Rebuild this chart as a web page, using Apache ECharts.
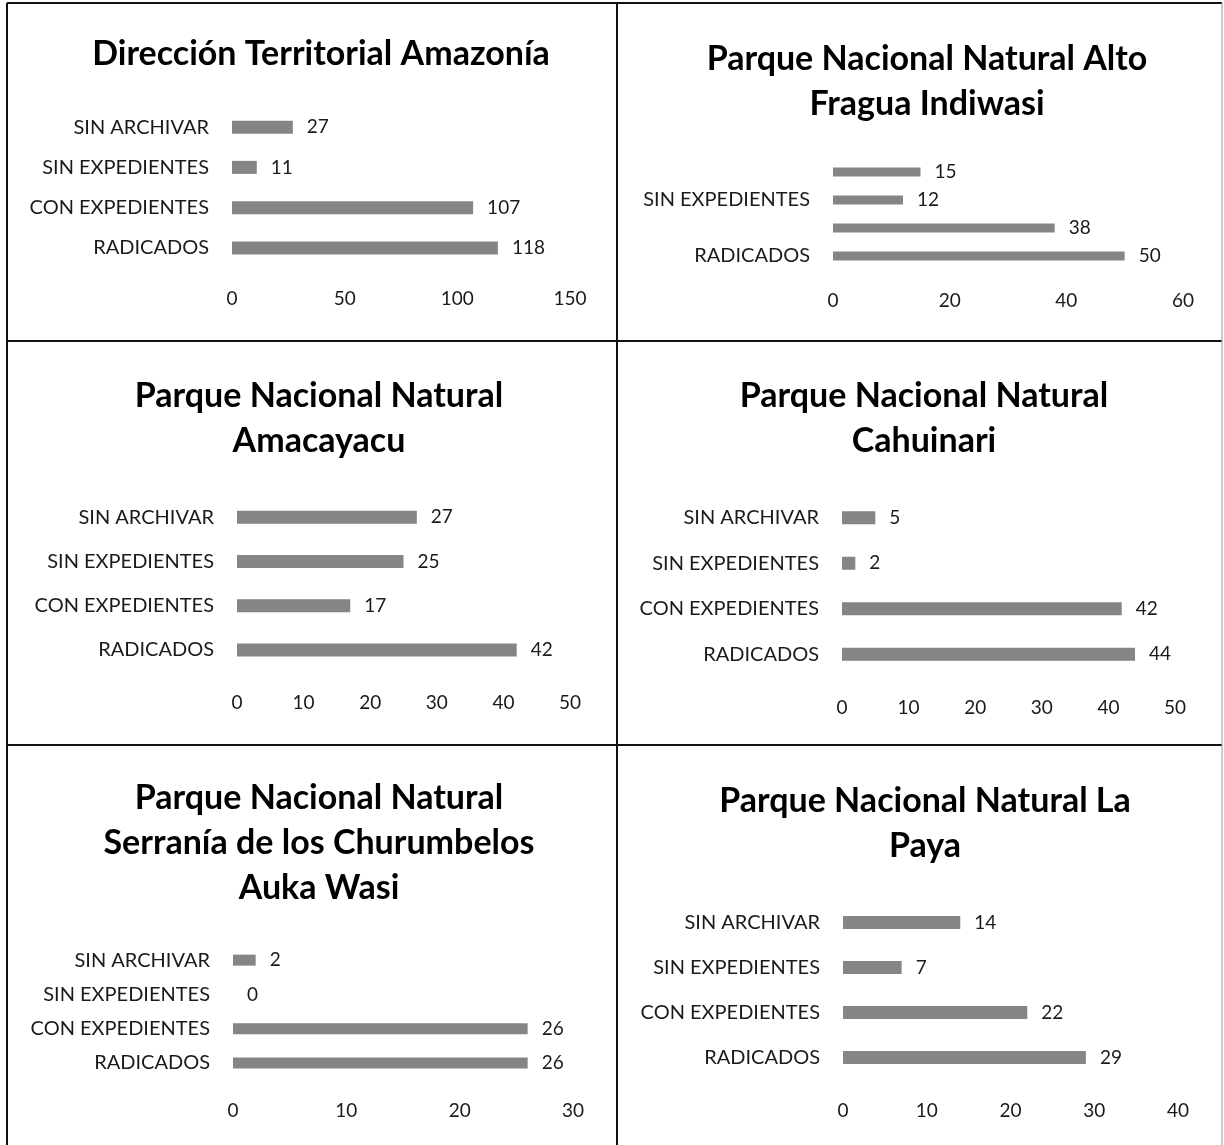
<!DOCTYPE html>
<html>
<head>
<meta charset="utf-8">
<title>Expedientes por área protegida</title>
<script src="https://cdn.jsdelivr.net/npm/echarts@6/dist/echarts.min.js"></script>
<style>
  html, body { margin: 0; padding: 0; background: #fff; }
  #chart { width: 1224px; height: 1145px; }
</style>
</head>
<body>
<div id="chart"></div>
<script>
// categorias de abajo hacia arriba (como las pinta el eje)
var categories = ['RADICADOS', 'CON EXPEDIENTES', 'SIN EXPEDIENTES', 'SIN ARCHIVAR']

var titles = [
  'Dirección Territorial Amazonía',
  'Parque Nacional Natural Alto\nFragua Indiwasi',
  'Parque Nacional Natural\nAmacayacu',
  'Parque Nacional Natural\nCahuinari',
  'Parque Nacional Natural\nSerranía de los Churumbelos\nAuka Wasi',
  'Parque Nacional Natural La\nPaya'
]

var valuesAmazonia = [118, 107, 11, 27]
var valuesAltoFragua = [50, 38, 12, 15]
var valuesAmacayacu = [42, 17, 25, 27]
var valuesCahuinari = [44, 42, 2, 5]
var valuesChurumbelos = [26, 26, 0, 2]
var valuesLaPaya = [29, 22, 7, 14]

var axisMax = [150, 60, 50, 50, 30, 40]
var axisStep = [50, 20, 10, 10, 10, 10]

var allValues = [valuesAmazonia, valuesAltoFragua, valuesAmacayacu, valuesCahuinari, valuesChurumbelos, valuesLaPaya]

// posicion de cada panel (px)
var panels = [
  { cx: 316, titleTop: 27, left: 232, right: 570, top: 107, bottom: 268, bar: 13, labelEvery: 0 },
  { cx: 922, titleTop: 32, left: 833, right: 1183, top: 158, bottom: 270, bar: 9, labelEvery: 1 },
  { cx: 314, titleTop: 369, left: 237, right: 570, top: 495, bottom: 672, bar: 13, labelEvery: 0 },
  { cx: 919, titleTop: 369, left: 842, right: 1175, top: 495, bottom: 677, bar: 13, labelEvery: 0 },
  { cx: 314, titleTop: 771, left: 233, right: 573, top: 943, bottom: 1080, bar: 11, labelEvery: 0 },
  { cx: 920, titleTop: 774, left: 843, right: 1178, top: 900, bottom: 1080, bar: 13, labelEvery: 0 }
]

var font = 'Lato, "Open Sans", sans-serif'
var W = 1224, H = 1145

var title = [], grid = [], xAxis = [], yAxis = [], series = []
panels.forEach(function (p, i) {
  title.push({
    text: titles[i],
    left: p.cx,
    top: p.titleTop,
    textAlign: 'center',
    textStyle: { fontFamily: font, fontWeight: 'bold', fontSize: 34, lineHeight: 45, color: '#000' }
  })
  grid.push({
    left: p.left,
    width: p.right - p.left,
    top: p.top,
    height: p.bottom - p.top,
    outerBoundsMode: 'none'
  })
  xAxis.push({
    type: 'value',
    gridIndex: i,
    min: 0,
    max: axisMax[i],
    interval: axisStep[i],
    axisLine: { show: false },
    axisTick: { show: false },
    splitLine: { show: false },
    axisLabel: { margin: 21, fontFamily: font, fontSize: 19, color: '#1a1a1a' }
  })
  yAxis.push({
    type: 'category',
    gridIndex: i,
    data: categories,
    axisLine: { show: false },
    axisTick: { show: false },
    axisLabel: { interval: p.labelEvery, margin: 23, fontFamily: font, fontSize: 20, color: '#1a1a1a' }
  })
  series.push({
    type: 'bar',
    xAxisIndex: i,
    yAxisIndex: i,
    data: allValues[i],
    barWidth: p.bar,
    itemStyle: { color: '#858585' },
    label: { show: true, position: 'right', distance: 14, fontFamily: font, fontSize: 19, color: '#1a1a1a' }
  })
})

// marco de la tabla escaneada
var lineStyle = { stroke: '#111', lineWidth: 2 }
var frame = [
  [7, 3, 7, H], [7, 3, 1222, 3], [617, 3, 617, H],
  [7, 341, 1222, 341], [7, 745, 1222, 745]
].map(function (s) {
  return { type: 'line', shape: { x1: s[0], y1: s[1], x2: s[2], y2: s[3] }, style: lineStyle, silent: true }
})
frame.push({ type: 'line', shape: { x1: 1222, y1: 3, x2: 1222, y2: H }, style: { stroke: '#999', lineWidth: 1 }, silent: true })

var chart = echarts.init(document.getElementById('chart'))
chart.setOption({
  backgroundColor: '#fff',
  animation: false,
  title: title,
  grid: grid,
  xAxis: xAxis,
  yAxis: yAxis,
  series: series,
  graphic: frame
})
</script>
</body>
</html>
